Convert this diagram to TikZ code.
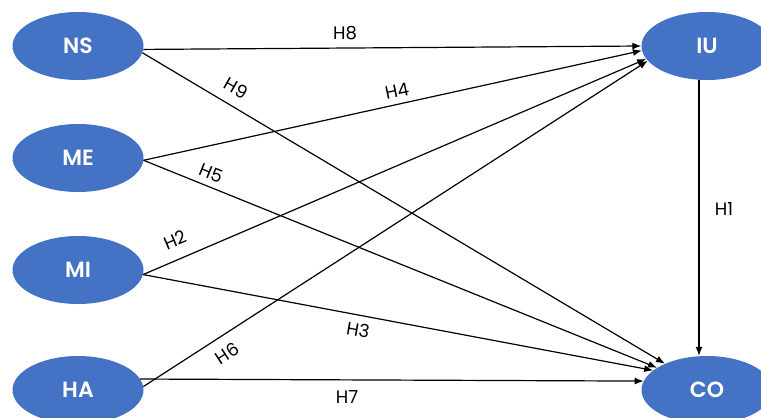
\documentclass[tikz,border=0pt]{standalone}
\usepackage{fontspec}
\setmainfont{Poppins}
\newfontfamily\nodefont{Poppins}[UprightFont=* SemiBold]
\usetikzlibrary{shapes.geometric,arrows.meta}
\definecolor{cblue}{HTML}{4472C4}
\begin{document}
\begin{tikzpicture}[x=1pt,y=1pt,
  var/.style={ellipse, fill=cblue, minimum width=131pt, minimum height=68pt, inner sep=0pt, text=white, font=\nodefont\fontsize{22}{22}\selectfont},
  arr/.style={line width=1.2pt, -{Latex[length=9pt,width=7pt]}},
  lbl/.style={font=\fontsize{18}{18}\selectfont, inner sep=1pt}]
\useasboundingbox (0,0) rectangle (761,-418);
\clip (0,0) rectangle (761,-418);
\node[var] (NS) at (78,-46) {NS};
\node[var] (ME) at (78,-158) {ME};
\node[var] (MI) at (78,-270) {MI};
\node[var] (HA) at (78,-390) {HA};
\node[var] (IU) at (707,-46) {IU};
\node[var] (CO) at (707,-390) {CO};
\draw[arr] (NS.-3) -- (IU.west);
\draw[arr] (NS.-6) -- (CO.148);
\draw[arr] (ME.-2) -- (IU.184);
\draw[arr] (ME.-2) -- (CO.156);
\draw[arr] (MI.-4) -- (IU.192);
\draw[arr] (MI.-4) -- (CO.160);
\draw[arr] (HA.3) -- (IU.194);
\draw[arr] (HA.10) -- (CO.172);
\draw[arr] ([xshift=-8pt]IU.south) -- ([xshift=-8pt]CO.north);
\node[lbl] (h8) at (345,-33) {H8};
\node[lbl, rotate=-30] (h9) at (236,-88) {H9};
\node[lbl, rotate=12] (h4) at (397,-91) {H4};
\node[lbl, rotate=-22] (h5) at (211,-173) {H5};
\node[lbl, rotate=23] (h2) at (175,-240) {H2};
\node[lbl, rotate=-10] (h3) at (358,-330) {H3};
\node[lbl, rotate=33] (h6) at (227,-353) {H6};
\node[lbl] (h7) at (347,-397) {H7};
\node[lbl] (h1) at (724,-209) {H1};
\end{tikzpicture}
\end{document}
